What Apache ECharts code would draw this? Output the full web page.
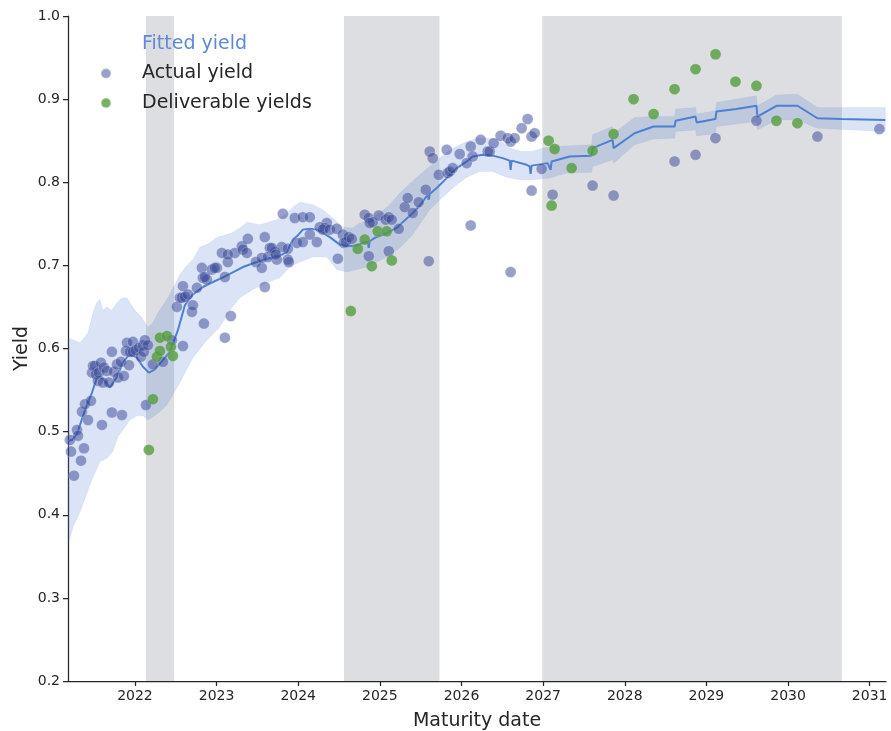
<!DOCTYPE html>
<html>
<head>
<meta charset="utf-8">
<script src="https://cdn.jsdelivr.net/npm/echarts@6/dist/echarts.min.js"></script>
<style>
  html, body { margin: 0; padding: 0; background: #ffffff; }
  #chart { width: 891px; height: 731px; }
</style>
</head>
<body>
<div id="chart"></div>
<script>
// Maturity expressed as decimal years.
const xTicks = [2022, 2023, 2024, 2025, 2026, 2027, 2028, 2029, 2030, 2031];
const yTicks = [0.2, 0.3, 0.4, 0.5, 0.6, 0.7, 0.8, 0.9, 1.0];

// Shaded maturity windows
const shadeRanges = [[2022.135, 2022.48], [2024.56, 2025.73], [2026.99, 2030.66]];

// Observed yields of individual bonds
const actualYield = [
  [2021.168,0.525],[2021.204,0.490],[2021.217,0.476],[2021.253,0.447],[2021.290,0.502],
  [2021.302,0.495],[2021.339,0.465],[2021.376,0.480],[2021.351,0.524],[2021.388,0.533],
  [2021.425,0.514],[2021.461,0.537],[2021.474,0.571],[2021.486,0.579],[2021.510,0.579],
  [2021.523,0.569],[2021.547,0.561],[2021.559,0.571],[2021.584,0.583],[2021.596,0.508],
  [2021.608,0.559],[2021.621,0.577],[2021.657,0.573],[2021.682,0.559],[2021.718,0.596],
  [2021.718,0.523],[2021.743,0.572],[2021.780,0.581],[2021.792,0.565],[2021.829,0.584],
  [2021.841,0.520],[2021.865,0.567],[2021.890,0.597],[2021.902,0.607],[2021.927,0.580],
  [2021.939,0.596],[2021.976,0.608],[2021.976,0.596],[2022.012,0.598],[2022.049,0.601],
  [2022.073,0.590],[2022.098,0.604],[2022.110,0.596],[2022.122,0.610],[2022.135,0.532],
  [2022.159,0.604],
  [2022.220,0.581],[2022.343,0.584],[2022.453,0.610],[2022.588,0.603],[2022.514,0.650],
  [2022.551,0.661],[2022.575,0.661],[2022.588,0.675],[2022.612,0.662],[2022.649,0.665],
  [2022.698,0.644],[2022.710,0.652],[2022.759,0.673],[2022.832,0.685],[2022.881,0.683],
  [2022.820,0.697],[2022.942,0.695],[2023.004,0.697],[2023.102,0.686],[2023.065,0.715],
  [2023.138,0.704],[2023.224,0.715],[2023.310,0.723],[2023.322,0.719],[2023.371,0.715],
  [2023.383,0.732],[2023.481,0.704],[2023.554,0.697],[2023.591,0.734],[2023.591,0.674],
  [2023.652,0.721],[2023.714,0.716],[2023.738,0.707],[2023.799,0.722],[2023.812,0.762],
  [2023.873,0.720],[2023.873,0.707],[2023.958,0.757],[2023.983,0.727],[2023.175,0.639],
  [2022.845,0.630],[2023.102,0.613],[2022.857,0.686],[2023.138,0.713],[2022.979,0.697],
  [2023.554,0.709],[2023.628,0.710],[2023.677,0.721],[2023.726,0.713],[2023.885,0.704],
  [2024.056,0.728],[2024.142,0.737],[2024.228,0.728],[2024.056,0.758],[2024.142,0.758],
  [2024.350,0.751],[2024.326,0.745],[2024.264,0.746],[2024.301,0.743],[2024.387,0.743],
  [2024.472,0.744],[2024.485,0.708],[2024.546,0.737],[2024.558,0.727],[2024.583,0.728],
  [2024.619,0.734],[2024.656,0.732],[2024.815,0.761],[2024.864,0.757],[2024.913,0.752],
  [2024.876,0.751],[2024.987,0.760],[2025.072,0.755],[2025.109,0.758],[2025.146,0.755],
  [2025.231,0.744],[2025.305,0.770],[2025.341,0.781],[2025.403,0.763],[2025.476,0.776],
  [2025.562,0.791],[2025.721,0.809],[2025.831,0.811],[2024.864,0.711],[2025.109,0.717],
  [2025.599,0.705],
  [2025.611,0.837],[2025.647,0.829],[2025.819,0.839],[2025.856,0.813],[2025.892,0.817],
  [2025.978,0.834],[2026.113,0.843],[2026.064,0.823],[2026.137,0.831],[2026.235,0.851],
  [2026.321,0.837],[2026.345,0.837],[2026.394,0.847],[2026.480,0.856],[2026.566,0.853],
  [2026.602,0.849],[2026.651,0.853],[2026.737,0.865],[2026.810,0.876],[2026.859,0.855],
  [2026.896,0.859],[2026.982,0.816],[2026.859,0.790],[2026.113,0.748],[2026.602,0.692],
  [2027.116,0.785],
  [2027.606,0.796],[2027.863,0.784],[2028.610,0.825],[2028.867,0.833],[2029.111,0.853],
  [2029.613,0.874],[2030.360,0.855],[2031.119,0.864]
];

// Yields of the deliverable bonds
const deliverableYield = [
  [2022.171,0.478],[2022.220,0.539],[2022.269,0.590],[2022.306,0.613],[2022.306,0.597],
  [2022.392,0.615],[2022.441,0.602],[2022.465,0.591],
  [2024.644,0.645],[2024.729,0.720],[2024.815,0.731],[2024.901,0.699],[2024.974,0.741],
  [2025.084,0.741],[2025.146,0.706],
  [2027.067,0.850],[2027.104,0.772],[2027.141,0.840],[2027.349,0.817],[2027.606,0.838],
  [2027.863,0.858],[2028.108,0.900],[2028.353,0.882],[2028.610,0.912],[2028.867,0.936],
  [2029.112,0.954],[2029.356,0.921],[2029.613,0.916],[2029.858,0.874],[2030.115,0.871]
];

// Fitted yield curve
const fittedYield = [
  [2021.180,0.489],[2021.229,0.490],[2021.290,0.497],[2021.388,0.526],[2021.474,0.547],
  [2021.535,0.565],[2021.596,0.565],[2021.694,0.553],[2021.780,0.566],[2021.853,0.583],
  [2021.914,0.591],[2021.976,0.592],[2022.024,0.589],[2022.098,0.578],[2022.171,0.571],
  [2022.245,0.575],[2022.343,0.586],[2022.428,0.596],[2022.526,0.622],[2022.612,0.652],
  [2022.710,0.665],[2022.832,0.674],[2022.955,0.680],[2023.065,0.685],[2023.187,0.691],
  [2023.322,0.698],[2023.493,0.704],[2023.616,0.708],[2023.738,0.710],[2023.860,0.716],
  [2023.934,0.731],[2023.995,0.736],[2024.056,0.743],[2024.142,0.744],[2024.228,0.743],
  [2024.301,0.739],[2024.387,0.734],[2024.509,0.725],[2024.607,0.723],[2024.717,0.724],
  [2024.791,0.727],[2024.852,0.728],[2024.864,0.721],[2024.876,0.729],[2024.938,0.733],
  [2025.084,0.739],[2025.207,0.745],[2025.280,0.752],[2025.403,0.763],[2025.489,0.772],
  [2025.587,0.785],[2025.599,0.779],[2025.611,0.786],[2025.697,0.793],[2025.819,0.805],
  [2025.941,0.817],[2026.064,0.825],[2026.137,0.831],[2026.260,0.833],[2026.382,0.832],
  [2026.504,0.829],[2026.590,0.826],[2026.602,0.815],[2026.614,0.826],[2026.798,0.821],
  [2026.835,0.819],[2026.847,0.810],[2026.859,0.820],[2027.055,0.823],[2027.092,0.815],
  [2027.104,0.825],[2027.324,0.831],[2027.594,0.832],[2027.606,0.841],[2027.851,0.851],
  [2027.863,0.841],[2028.120,0.859],[2028.353,0.867],[2028.610,0.867],[2028.623,0.874],
  [2028.867,0.879],[2028.880,0.872],[2029.111,0.876],[2029.123,0.885],[2029.368,0.888],
  [2029.613,0.892],[2029.625,0.879],[2029.858,0.892],[2030.115,0.892],[2030.360,0.877],
  [2030.654,0.876],[2031.192,0.875]
];

// Confidence band around the fitted curve
const bandUpper = [
  [2021.180,0.613],[2021.327,0.607],[2021.425,0.619],[2021.486,0.643],[2021.535,0.656],
  [2021.572,0.659],[2021.608,0.646],[2021.657,0.650],[2021.718,0.646],[2021.780,0.655],
  [2021.841,0.661],[2021.902,0.661],[2021.939,0.655],[2022.000,0.646],[2022.086,0.637],
  [2022.159,0.626],[2022.220,0.631],[2022.282,0.643],[2022.343,0.652],[2022.404,0.661],
  [2022.490,0.677],[2022.551,0.689],[2022.612,0.697],[2022.710,0.707],[2022.796,0.722],
  [2022.881,0.725],[2023.016,0.734],[2023.187,0.739],[2023.285,0.745],[2023.371,0.752],
  [2023.530,0.749],[2023.738,0.755],[2023.860,0.762],[2023.934,0.770],[2024.020,0.776],
  [2024.179,0.773],[2024.301,0.767],[2024.424,0.757],[2024.546,0.746],[2024.668,0.745],
  [2024.754,0.751],[2024.876,0.755],[2024.999,0.763],[2025.121,0.773],[2025.244,0.787],
  [2025.452,0.806],[2025.611,0.819],[2025.733,0.829],[2025.856,0.839],[2026.064,0.849],
  [2026.198,0.853],[2026.321,0.853],[2026.468,0.851],[2026.590,0.841],[2026.737,0.837],
  [2026.859,0.837],[2026.994,0.841],[2027.116,0.843],[2027.594,0.845],[2027.606,0.857],
  [2027.851,0.867],[2027.863,0.859],[2028.120,0.878],[2028.353,0.879],[2028.610,0.879],
  [2028.623,0.888],[2028.867,0.890],[2028.880,0.882],[2029.111,0.886],[2029.123,0.896],
  [2029.613,0.904],[2029.625,0.892],[2029.858,0.905],[2030.115,0.906],[2030.360,0.890],
  [2031.192,0.890]
];
const bandLower = [
  [2021.180,0.364],[2021.241,0.385],[2021.327,0.403],[2021.412,0.426],[2021.486,0.445],
  [2021.572,0.464],[2021.657,0.468],[2021.731,0.476],[2021.792,0.494],[2021.853,0.502],
  [2021.939,0.514],[2022.024,0.519],[2022.098,0.519],[2022.159,0.514],[2022.220,0.518],
  [2022.306,0.524],[2022.392,0.532],[2022.551,0.559],[2022.710,0.589],[2022.881,0.610],
  [2023.040,0.626],[2023.163,0.646],[2023.285,0.661],[2023.444,0.671],[2023.616,0.679],
  [2023.775,0.685],[2023.897,0.698],[2024.020,0.704],[2024.179,0.710],[2024.350,0.710],
  [2024.472,0.695],[2024.595,0.692],[2024.717,0.695],[2024.840,0.698],[2024.962,0.704],
  [2025.084,0.710],[2025.244,0.721],[2025.403,0.737],[2025.611,0.767],[2025.770,0.782],
  [2025.941,0.797],[2026.064,0.806],[2026.223,0.813],[2026.382,0.813],[2026.553,0.806],
  [2026.712,0.803],[2026.871,0.803],[2027.080,0.805],[2027.288,0.811],[2027.594,0.812],
  [2027.606,0.819],[2027.851,0.827],[2027.863,0.823],[2028.120,0.845],[2028.353,0.852],
  [2028.610,0.853],[2028.623,0.861],[2028.867,0.863],[2028.880,0.856],[2029.111,0.858],
  [2029.123,0.867],[2029.613,0.873],[2029.625,0.863],[2029.858,0.875],[2030.115,0.875],
  [2030.360,0.865],[2031.192,0.861]
];

const FONT = 'DejaVu Sans';
const INK = '#262626';
const LINE_BLUE = '#4f7fcf';

const chart = echarts.init(document.getElementById('chart'), null, { renderer: 'canvas' });

chart.setOption({
  animation: false,
  backgroundColor: '#ffffff',
  textStyle: { fontFamily: FONT },
  grid: { left: 68, right: 5, top: 16, bottom: 50, containLabel: false, outerBoundsMode: 'none' },
  legend: {
    orient: 'vertical',
    left: 95,
    top: 29,
    itemWidth: 10,
    itemHeight: 10,
    itemGap: 9.5,
    textStyle: { fontFamily: FONT, fontSize: 19, color: INK, lineHeight: 20, padding: [0, 0, 0, 26] },
    data: [
      { name: 'Fitted yield', itemStyle: { opacity: 0 }, lineStyle: { opacity: 0 }, textStyle: { color: '#5f8ad3' } },
      { name: 'Actual yield', icon: 'circle' },
      { name: 'Deliverable yields', icon: 'circle' }
    ]
  },
  xAxis: {
    type: 'value',
    min: 2021.18,
    max: 2031.2,
    name: 'Maturity date',
    nameLocation: 'middle',
    nameGap: 31,
    nameTextStyle: { fontFamily: FONT, fontSize: 19, color: INK },
    axisLine: { show: true, lineStyle: { color: INK, width: 1.25 } },
    axisTick: { show: true, inside: false, length: 5, customValues: xTicks, lineStyle: { color: INK, width: 1.25 } },
    axisLabel: { customValues: xTicks, margin: 8, fontSize: 14, color: INK, fontFamily: FONT,
                 formatter: v => String(Math.round(v)) },
    splitLine: { show: false }
  },
  yAxis: {
    type: 'value',
    min: 0.2,
    max: 1.0,
    interval: 0.1,
    name: 'Yield',
    nameLocation: 'middle',
    nameGap: 36,
    nameMoveOverlap: false,
    nameTextStyle: { fontFamily: FONT, fontSize: 19, color: INK },
    axisLine: { show: true, lineStyle: { color: INK, width: 1.25 } },
    axisTick: { show: true, inside: false, length: 5, lineStyle: { color: INK, width: 1.25 } },
    axisLabel: { margin: 8, fontSize: 14, color: INK, fontFamily: FONT,
                 formatter: v => v.toFixed(1) },
    splitLine: { show: false }
  },
  series: [
    {
      // shaded windows
      name: 'windows',
      type: 'line',
      data: [],
      z: 0,
      silent: true,
      markArea: {
        silent: true,
        itemStyle: { color: 'rgba(120,124,135,0.25)' },
        data: shadeRanges.map(r => [{ xAxis: r[0] }, { xAxis: r[1] }])
      }
    },
    {
      name: 'band',
      type: 'custom',
      z: 1,
      silent: true,
      data: [[bandUpper[0][0], bandUpper[0][1]]],
      renderItem: function (params, api) {
        const pts = bandUpper.map(p => api.coord(p))
          .concat(bandLower.slice().reverse().map(p => api.coord(p)));
        return {
          type: 'polygon',
          shape: { points: pts },
          style: { fill: 'rgba(72,120,208,0.2)', stroke: 'rgba(72,120,208,0.08)', lineWidth: 1 }
        };
      }
    },
    {
      name: 'Fitted yield',
      type: 'line',
      z: 3,
      data: fittedYield,
      showSymbol: false,
      symbol: 'none',
      lineStyle: { color: LINE_BLUE, width: 2 },
      itemStyle: { color: LINE_BLUE }
    },
    {
      name: 'Actual yield',
      type: 'scatter',
      z: 4,
      data: actualYield,
      symbolSize: 11,
      itemStyle: { color: 'rgba(55,70,150,0.64)', borderColor: 'rgba(255,255,255,0.35)', borderWidth: 0.8 }
    },
    {
      name: 'Deliverable yields',
      type: 'scatter',
      z: 5,
      data: deliverableYield,
      symbolSize: 11,
      itemStyle: { color: '#559c3f', borderColor: 'rgba(255,255,255,0.4)', borderWidth: 0.5 }
    }
  ]
});
</script>
</body>
</html>
